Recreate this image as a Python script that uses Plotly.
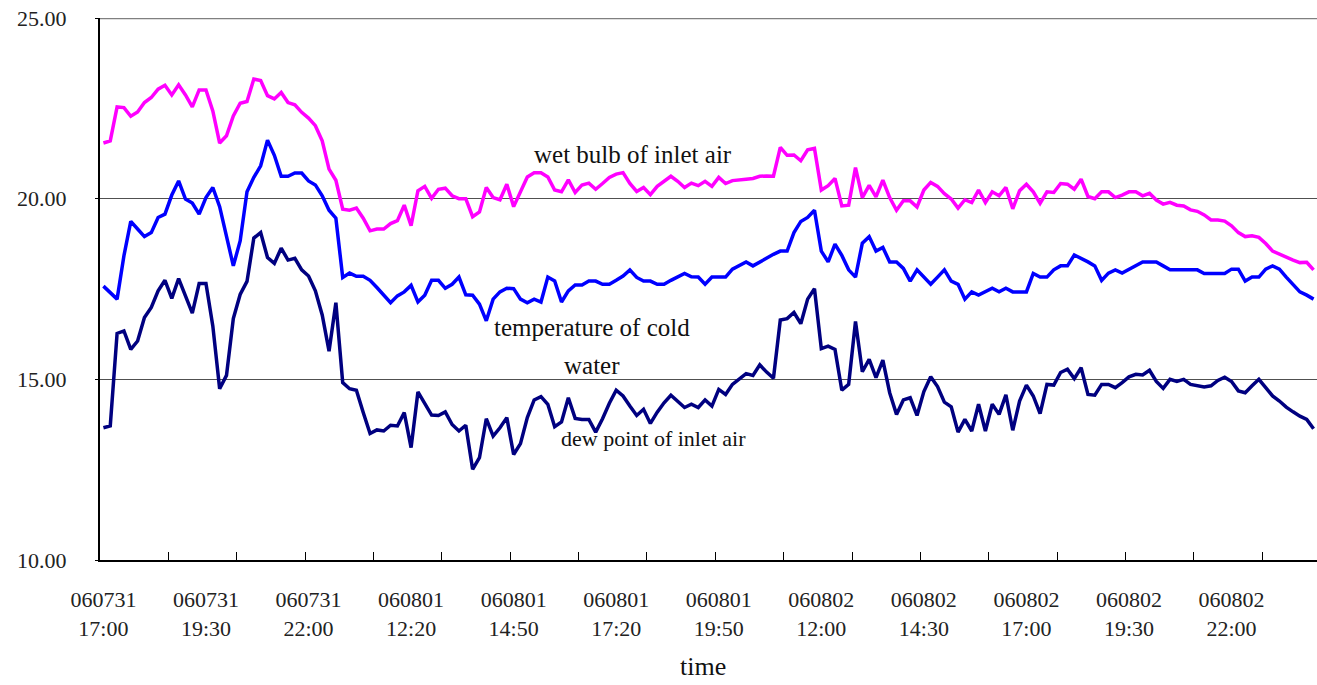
import plotly.graph_objects as go

# ---- data ----
wet_bulb = [
    21.54, 21.60, 22.54, 22.52, 22.28, 22.40, 22.66, 22.80, 23.03, 23.14,
    22.87, 23.15, 22.87, 22.54, 23.01, 23.01, 22.43, 21.54, 21.74, 22.29,
    22.64, 22.69, 23.31, 23.27, 22.85, 22.76, 22.94, 22.66, 22.60, 22.39,
    22.23, 22.02, 21.60, 20.82, 20.51, 19.71, 19.68, 19.74, 19.46, 19.11,
    19.16, 19.16, 19.31, 19.39, 19.82, 19.25, 20.22, 20.34, 20.01, 20.26,
    20.29, 20.08, 20.00, 20.00, 19.50, 19.63, 20.31, 20.03, 19.97, 20.40,
    19.78, 20.17, 20.60, 20.72, 20.72, 20.60, 20.24, 20.19, 20.52, 20.17,
    20.38, 20.43, 20.26, 20.42, 20.59, 20.68, 20.72, 20.42, 20.20, 20.31,
    20.11, 20.34, 20.48, 20.62, 20.48, 20.31, 20.43, 20.36, 20.48, 20.34,
    20.59, 20.42, 20.50, 20.51, 20.54, 20.56, 20.62, 20.63, 20.62, 21.42,
    21.20, 21.21, 21.05, 21.35, 21.39, 20.24, 20.36, 20.56, 19.80, 19.82,
    20.86, 20.03, 20.37, 20.05, 20.51, 20.03, 19.68, 19.94, 19.94, 19.77,
    20.24, 20.45, 20.34, 20.14, 19.99, 19.74, 19.97, 19.89, 20.24, 19.89,
    20.19, 20.08, 20.31, 19.72, 20.22, 20.40, 20.19, 19.87, 20.19, 20.17,
    20.42, 20.40, 20.26, 20.54, 20.06, 20.00, 20.19, 20.19, 20.03, 20.10,
    20.19, 20.19, 20.08, 20.15, 19.96, 19.85, 19.90, 19.82, 19.80, 19.69,
    19.65, 19.55, 19.41, 19.41, 19.38, 19.25, 19.06, 18.95, 18.97, 18.93,
    18.76, 18.55, 18.46, 18.39, 18.30, 18.23, 18.24, 18.03,
]

cold_water = [
    17.58, 17.40, 17.22, 18.42, 19.37, 19.16, 18.95, 19.06, 19.48, 19.57,
    20.10, 20.49, 19.99, 19.88, 19.57, 20.03, 20.31, 19.78, 18.97, 18.14,
    18.83, 20.19, 20.59, 20.91, 21.62, 21.20, 20.62, 20.62, 20.71, 20.71,
    20.49, 20.38, 20.08, 19.68, 19.46, 17.82, 17.94, 17.85, 17.85, 17.74,
    17.54, 17.33, 17.12, 17.31, 17.42, 17.60, 17.14, 17.33, 17.74, 17.74,
    17.52, 17.63, 17.83, 17.34, 17.33, 17.08, 16.62, 17.22, 17.42, 17.52,
    17.51, 17.22, 17.12, 17.22, 17.14, 17.83, 17.72, 17.14, 17.45, 17.61,
    17.61, 17.72, 17.72, 17.63, 17.63, 17.74, 17.86, 18.03, 17.82, 17.72,
    17.72, 17.63, 17.63, 17.74, 17.84, 17.93, 17.84, 17.83, 17.63, 17.83,
    17.83, 17.83, 18.05, 18.16, 18.25, 18.14, 18.25, 18.35, 18.46, 18.55,
    18.55, 19.06, 19.37, 19.48, 19.68, 18.55, 18.25, 18.74, 18.43, 18.03,
    17.83, 18.77, 18.95, 18.55, 18.65, 18.25, 18.25, 18.07, 17.72, 18.03,
    17.82, 17.63, 17.83, 18.03, 17.72, 17.63, 17.22, 17.42, 17.33, 17.42,
    17.52, 17.42, 17.52, 17.42, 17.42, 17.42, 17.93, 17.83, 17.83, 18.03,
    18.14, 18.14, 18.44, 18.35, 18.25, 18.14, 17.74, 17.94, 18.03, 17.94,
    18.05, 18.14, 18.25, 18.25, 18.25, 18.14, 18.03, 18.03, 18.03, 18.03,
    18.03, 17.93, 17.93, 17.93, 17.93, 18.05, 18.05, 17.72, 17.83, 17.83,
    18.05, 18.14, 18.05, 17.83, 17.63, 17.42, 17.33, 17.22,
]

dew_point = [
    13.66, 13.71, 16.27, 16.34, 15.83, 16.06, 16.71, 16.99, 17.45, 17.74,
    17.24, 17.79, 17.31, 16.83, 17.65, 17.65, 16.48, 14.74, 15.11, 16.68,
    17.35, 17.71, 18.91, 19.06, 18.37, 18.21, 18.63, 18.30, 18.35, 18.03,
    17.86, 17.45, 16.78, 15.78, 17.12, 14.91, 14.74, 14.70, 14.08, 13.50,
    13.60, 13.57, 13.73, 13.71, 14.08, 13.11, 14.65, 14.35, 14.01, 14.00,
    14.10, 13.75, 13.57, 13.73, 12.51, 12.83, 13.91, 13.43, 13.66, 13.94,
    12.92, 13.22, 13.94, 14.43, 14.52, 14.31, 13.69, 13.82, 14.49, 13.92,
    13.89, 13.89, 13.54, 13.91, 14.34, 14.70, 14.54, 14.26, 14.00, 14.17,
    13.78, 14.09, 14.35, 14.56, 14.40, 14.22, 14.31, 14.22, 14.43, 14.26,
    14.72, 14.58, 14.86, 15.02, 15.16, 15.11, 15.40, 15.20, 15.03, 16.64,
    16.68, 16.85, 16.54, 17.22, 17.51, 15.85, 15.92, 15.83, 14.70, 14.86,
    16.60, 15.21, 15.55, 15.05, 15.53, 14.63, 14.03, 14.43, 14.49, 14.00,
    14.66, 15.07, 14.80, 14.37, 14.24, 13.54, 13.89, 13.57, 14.31, 13.57,
    14.31, 14.03, 14.57, 13.59, 14.40, 14.84, 14.54, 14.05, 14.86, 14.84,
    15.19, 15.28, 15.02, 15.32, 14.58, 14.56, 14.86, 14.86, 14.77, 14.91,
    15.07, 15.14, 15.12, 15.25, 14.94, 14.75, 15.00, 14.94, 15.00, 14.86,
    14.82, 14.79, 14.82, 14.97, 15.06, 14.94, 14.68, 14.63, 14.82, 15.00,
    14.77, 14.54, 14.40, 14.23, 14.10, 13.98, 13.89, 13.63,
]

tick_labels = [
    "060731<br>17:00", "060731<br>19:30", "060731<br>22:00",
    "060801<br>12:20", "060801<br>14:50", "060801<br>17:20",
    "060801<br>19:50", "060802<br>12:00", "060802<br>14:30",
    "060802<br>17:00", "060802<br>19:30", "060802<br>22:00",
]
y_ticks = [10, 15, 20, 25]

n = len(wet_bulb)
x = list(range(n))
label_every = 15
tick_every = 10

FONT = "Liberation Serif, Times New Roman, Times, serif"

fig = go.Figure()
for name, vals, color in [
    ("wet bulb of inlet air", wet_bulb, "#FF00FF"),
    ("temperature of cold water", cold_water, "#0000FF"),
    ("dew point of inlet air", dew_point, "#000080"),
]:
    fig.add_trace(go.Scatter(x=x, y=vals, mode="lines", name=name,
                             line=dict(color=color, width=3.5),
                             hoverinfo="skip"))

fig.update_layout(
    width=1317, height=685,
    margin=dict(l=100, r=0, t=18, b=124.5),
    paper_bgcolor="white", plot_bgcolor="white",
    showlegend=False,
    font=dict(family=FONT, color="#222222"),
    xaxis=dict(
        range=[-0.5, n - 0.5],
        tickmode="array",
        tickvals=[i for i in range(0, n, label_every)],
        ticktext=tick_labels,
        ticks="",
        ticklabelstandoff=19,
        tickfont=dict(family=FONT, size=22, color="#222222"),
        showgrid=False, zeroline=False,
        showline=True, linecolor="#000000", linewidth=2,
        minor=dict(tickmode="array",
                   tickvals=[k - 0.5 for k in range(tick_every, n, tick_every)],
                   ticks="inside", ticklen=8, tickcolor="#000000",
                   tickwidth=1, showgrid=False),
    ),
    yaxis=dict(
        range=[10, 25],
        tickmode="array",
        tickvals=y_ticks,
        ticktext=[f"{v:.2f}" for v in y_ticks],
        ticks="outside", ticklen=3, tickcolor="#000000",
        ticklabelstandoff=24,
        tickfont=dict(family=FONT, size=22, color="#222222"),
        showgrid=True, gridcolor="#505050", gridwidth=1,
        zeroline=False,
        showline=True, linecolor="#000000", linewidth=2,
    ),
    shapes=[dict(type="line", xref="paper", x0=0, x1=1, yref="y",
                 y0=y_ticks[-1], y1=y_ticks[-1],
                 line=dict(color="#808080", width=2.5), layer="below")],
    annotations=[
        dict(text="wet bulb of inlet air", x=77.4, y=21.22, xref="x", yref="y",
             showarrow=False, font=dict(family=FONT, size=25, color="#111111")),
        dict(text="temperature of cold", x=71.4, y=16.44, xref="x", yref="y",
             showarrow=False, font=dict(family=FONT, size=25, color="#111111")),
        dict(text="water", x=71.4, y=15.39, xref="x", yref="y",
             showarrow=False, font=dict(family=FONT, size=25, color="#111111")),
        dict(text="dew point of inlet air", x=80.4, y=13.37, xref="x", yref="y",
             showarrow=False, font=dict(family=FONT, size=22, color="#111111")),
        dict(text="time", x=0.4955, y=-0.197, xref="paper", yref="paper",
             yanchor="middle", showarrow=False,
             font=dict(family=FONT, size=26, color="#111111")),
    ],
)

fig.write_html(
    "out.html",
    config={"displayModeBar": False},
    post_script="document.body.style.margin='0';"
                "document.body.style.overflow='hidden';",
)
